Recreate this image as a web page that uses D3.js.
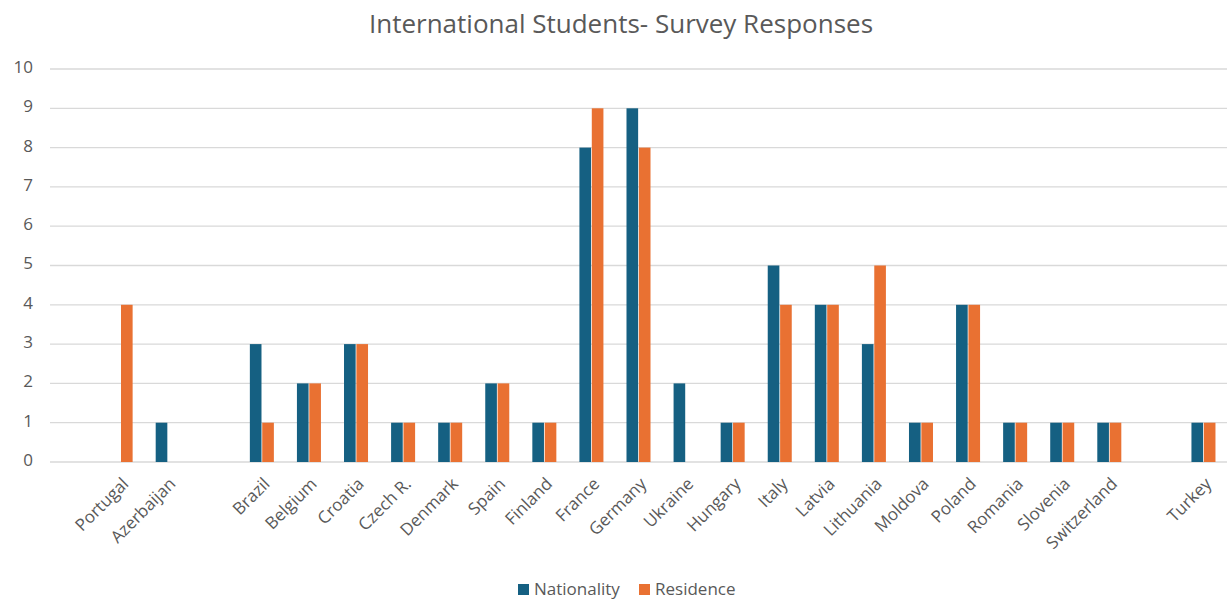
<!DOCTYPE html>
<html><head><meta charset="utf-8">
<script src="https://cdn.jsdelivr.net/npm/d3@7"></script>
<style>body{margin:0;background:#fff;} svg{display:block;font-family:"Open Sans",sans-serif;}</style>
</head><body>
<svg id="chart" width="1230" height="599"></svg>
<script>
const categories = ["", "Portugal", "Azerbaijan", "", "Brazil", "Belgium", "Croatia", "Czech R.", "Denmark", "Spain", "Finland", "France", "Germany", "Ukraine", "Hungary", "Italy", "Latvia", "Lithuania", "Moldova", "Poland", "Romania", "Slovenia", "Switzerland", "", "Turkey"];
const nationality = [0, 0, 1, 0, 3, 2, 3, 1, 1, 2, 1, 8, 9, 2, 1, 5, 4, 3, 1, 4, 1, 1, 1, 0, 1];
const residence   = [0, 4, 0, 0, 1, 2, 3, 1, 1, 2, 1, 9, 8, 0, 1, 4, 4, 5, 1, 4, 1, 1, 1, 0, 1];
const seriesNames = ["Nationality", "Residence"];
const yTicks = [0,1,2,3,4,5,6,7,8,9,10];
const title = "International Students- Survey Responses";

const colors = {"Nationality":"#156082","Residence":"#E97132"};
const svg = d3.select("#chart");
const M = {left:50, right:1227, top:69, bottom:462};

const idx = categories.map((d,i)=>i);
const x0 = d3.scaleBand().domain(idx).range([M.left, M.right]).padding(0);
const groupW = x0.bandwidth()*0.51;
const x1 = d3.scaleBand().domain(seriesNames).range([0, groupW]).paddingInner(0.06);
const y = d3.scaleLinear().domain([0,10]).range([M.bottom, M.top]);

// gridlines
svg.append("g").selectAll("line").data(yTicks).join("line")
  .attr("x1", M.left).attr("x2", M.right)
  .attr("y1", d=>y(d)).attr("y2", d=>y(d))
  .attr("stroke", "#d9d9d9").attr("stroke-width", 1.3);

// y axis labels
const yAxis = d3.axisLeft(y).tickValues(yTicks).tickSize(0).tickPadding(0);
const yg = svg.append("g").attr("transform", `translate(33,-2)`).call(yAxis);
yg.select(".domain").remove();
yg.selectAll("text").attr("fill","#595959").style("font-size","17px").style("font-family","'Open Sans',sans-serif");

// bars
const data = idx.map(i=>({i, vals:[{k:"Nationality",v:nationality[i]},{k:"Residence",v:residence[i]}]}));
const g = svg.append("g");
g.selectAll("g").data(data).join("g")
  .attr("transform", d=>`translate(${x0(d.i)+(x0.bandwidth()-groupW)/2},0)`)
  .selectAll("rect").data(d=>d.vals.filter(v=>v.v>0)).join("rect")
  .attr("x", d=>x1(d.k)).attr("width", x1.bandwidth())
  .attr("y", d=>y(d.v)).attr("height", d=>y(0)-y(d.v))
  .attr("fill", d=>colors[d.k]);

// x axis labels
const xAxis = d3.axisBottom(x0).tickSize(0).tickPadding(0).tickFormat(i=>categories[i]);
const xg = svg.append("g").attr("transform", `translate(0,${M.bottom})`).call(xAxis);
xg.select(".domain").remove();
xg.selectAll("text")
  .attr("fill","#595959").style("font-size","17px").style("font-family","'Open Sans',sans-serif")
  .attr("text-anchor","end")
  .attr("dy", null).attr("y", 0)
  .attr("transform","translate(9,23) rotate(-45)");

// title
svg.append("text").attr("x", 621).attr("y", 33).attr("text-anchor","middle")
  .attr("fill","#595959").style("font-size","26px").text(title);

// legend
const legItems = [{k:"Nationality",x:518},{k:"Residence",x:639}];
legItems.forEach(it=>{
  svg.append("rect").attr("x",it.x).attr("y",584).attr("width",11).attr("height",11).attr("fill",colors[it.k]);
  svg.append("text").attr("x",it.x+16).attr("y",595).attr("fill","#595959").style("font-size","17px").text(it.k);
});
</script>
</body></html>
